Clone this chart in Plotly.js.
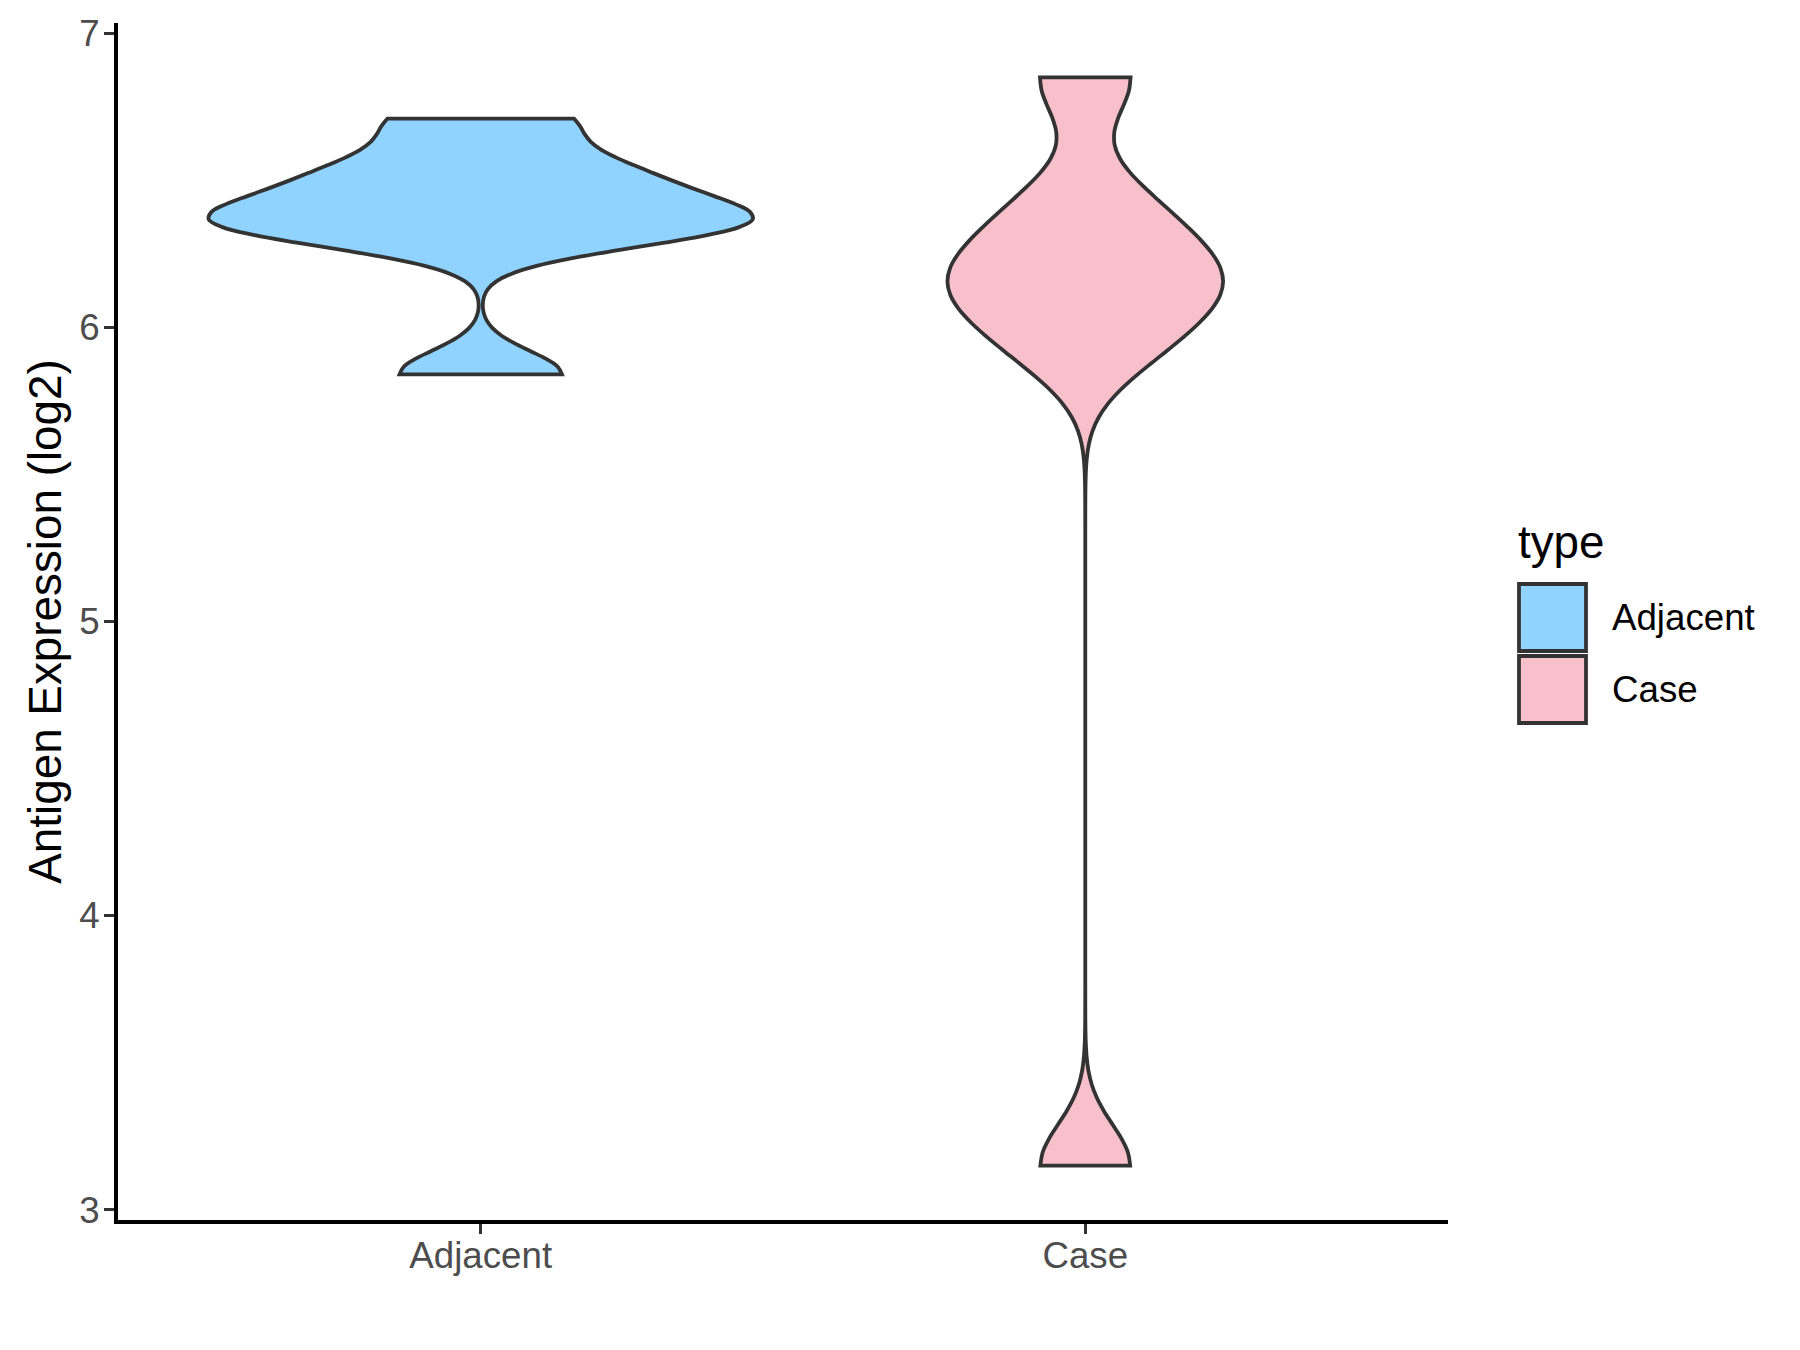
<!DOCTYPE html>
<html>
<head>
<meta charset="utf-8">
<script src="https://cdn.plot.ly/plotly-3.0.1.min.js"></script>
<style>
  html, body { margin: 0; padding: 0; background: #ffffff; }
  #chart { width: 1800px; height: 1350px; }
</style>
</head>
<body>
<div id="chart"></div>
<script>
// ---- data ----
const categories = ['Adjacent', 'Case'];
const adjacentValues = [5.84, 6.32, 6.36, 6.37, 6.47, 6.55, 6.71];
const caseValues = [3.15, 5.92, 6.08, 6.16, 6.25, 6.42, 6.85];
const seriesValues = [adjacentValues, caseValues];
const fillColors = ['#8FD3FE', '#F7C0CB'];
const bandwidths = [0.08, 0.14];
const violinWidths = [0.9, 0.456];
const yTicks = [3, 4, 5, 6, 7];
const legendTitle = 'type';
const yTitle = 'Antigen Expression (log2)';

// ---- layout constants (pixels) ----
const W = 1800, H = 1350;
const M = { l: 118, r: 352, t: 23, b: 130 };
const plotW = W - M.l - M.r, plotH = H - M.t - M.b;
const px2paperX = px => (px - M.l) / plotW;
const px2paperY = py => (H - M.b - py) / plotH;

const FONT = 'Liberation Sans, Arial, Helvetica, sans-serif';
const OUTLINE = '#333333';

const traces = categories.map((cat, i) => ({
  type: 'violin',
  name: cat,
  x: seriesValues[i].map(() => cat),
  y: seriesValues[i],
  spanmode: 'hard',
  bandwidth: bandwidths[i],
  scalemode: 'width',
  width: violinWidths[i],
  fillcolor: fillColors[i],
  line: { color: OUTLINE, width: 3.8 },
  points: false,
  box: { visible: false },
  meanline: { visible: false },
  hoveron: 'violins',
  opacity: 1,
  showlegend: false
}));

// custom legend (ggplot-style large square keys)
const keyLeft = 1519, keyRight = 1586;
const keyTops = [584, 656], keySize = 67;
const shapes = categories.map((cat, i) => ({
  type: 'rect', xref: 'paper', yref: 'paper',
  x0: px2paperX(keyLeft), x1: px2paperX(keyRight),
  y0: px2paperY(keyTops[i] + keySize), y1: px2paperY(keyTops[i]),
  fillcolor: fillColors[i],
  line: { color: OUTLINE, width: 3.8 }
}));
const annotations = [
  { text: legendTitle, xref: 'paper', yref: 'paper', x: px2paperX(1516), y: px2paperY(542),
    xanchor: 'left', yanchor: 'middle', showarrow: false,
    font: { family: FONT, size: 45.8, color: '#000000' } }
].concat(categories.map((cat, i) => ({
  text: cat, xref: 'paper', yref: 'paper', x: px2paperX(1610), y: px2paperY(keyTops[i] + keySize / 2),
  xanchor: 'left', yanchor: 'middle', showarrow: false,
  font: { family: FONT, size: 36.7, color: '#000000' }
})));

const layout = {
  width: W, height: H,
  margin: M,
  paper_bgcolor: '#ffffff',
  plot_bgcolor: '#ffffff',
  violinmode: 'overlay',
  showlegend: false,
  font: { family: FONT, color: '#000000' },
  xaxis: {
    type: 'category',
    categoryorder: 'array',
    categoryarray: categories,
    range: [-0.6, 1.6],
    showgrid: false, zeroline: false,
    showline: true, linecolor: '#000000', linewidth: 4,
    ticks: 'outside', ticklen: 10, tickwidth: 3.5, tickcolor: OUTLINE,
    ticklabelstandoff: -10,
    tickfont: { family: FONT, size: 36.7, color: '#4D4D4D' },
    fixedrange: true
  },
  yaxis: {
    range: [2.965, 7.035],
    tickvals: yTicks,
    ticktext: yTicks.map(String),
    showgrid: false, zeroline: false,
    showline: true, linecolor: '#000000', linewidth: 4,
    ticks: 'outside', ticklen: 10, tickwidth: 3.5, tickcolor: OUTLINE,
    ticklabelstandoff: -3,
    tickfont: { family: FONT, size: 36.7, color: '#4D4D4D' },
    title: { text: yTitle, font: { family: FONT, size: 45.8, color: '#000000' }, standoff: 4 },
    fixedrange: true
  },
  shapes: shapes,
  annotations: annotations
};

Plotly.newPlot('chart', traces, layout, { displayModeBar: false, staticPlot: true });
</script>
</body>
</html>
